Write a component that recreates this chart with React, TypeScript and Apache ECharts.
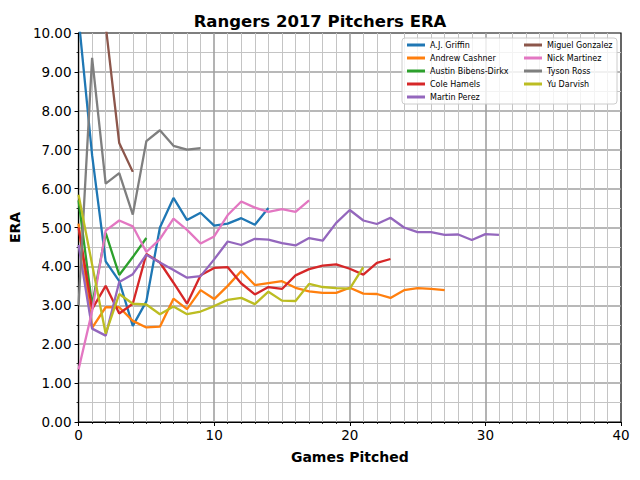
import React, { useEffect, useRef } from "react";
import * as echarts from "echarts";

const pitchers = [
  "A.J. Griffin",
  "Andrew Cashner",
  "Austin Bibens-Dirkx",
  "Cole Hamels",
  "Martin Perez",
  "Miguel Gonzalez",
  "Nick Martinez",
  "Tyson Ross",
  "Yu Darvish",
];

const colors = [
  "#1f77b4", "#ff7f0e", "#2ca02c", "#d62728", "#9467bd",
  "#8c564b", "#e377c2", "#7f7f7f", "#bcbd22",
];

const startGame = [0, 0, 0, 0, 0, 2, 0, 0, 0];

const griffin = [10.4, 6.86, 4.13, 3.62, 2.47, 3.1, 5.0, 5.76, 5.19, 5.38, 5.05, 5.1, 5.24, 5.07, 5.5];
const cashner = [5.1, 2.42, 2.95, 2.95, 2.6, 2.43, 2.45, 3.17, 2.9, 3.39, 3.16, 3.5, 3.88, 3.52, 3.57, 3.62, 3.45, 3.36, 3.32, 3.32, 3.45, 3.3, 3.29, 3.19, 3.39, 3.44, 3.42, 3.39];
const bibensDirkx = [5.7, 3.0, 4.86, 3.78, 4.24, 4.73];
const hamels = [5.0, 2.9, 3.5, 2.79, 3.04, 4.32, 4.1, 3.58, 3.04, 3.77, 3.96, 3.98, 3.56, 3.28, 3.47, 3.42, 3.77, 3.93, 4.02, 4.05, 3.94, 3.79, 4.09, 4.19];
const perez = [4.55, 2.4, 2.22, 3.6, 3.8, 4.3, 4.1, 3.91, 3.71, 3.75, 4.18, 4.64, 4.55, 4.71, 4.69, 4.6, 4.54, 4.73, 4.66, 5.12, 5.45, 5.18, 5.09, 5.25, 5.0, 4.88, 4.88, 4.81, 4.82, 4.68, 4.83, 4.81];
const gonzalez = [10.2, 7.17, 6.43];
const martinez = [1.35, 2.85, 4.92, 5.18, 5.03, 4.37, 4.7, 5.23, 4.94, 4.59, 4.77, 5.32, 5.67, 5.51, 5.4, 5.47, 5.4, 5.7];
const ross = [3.0, 9.36, 6.13, 6.4, 5.33, 7.22, 7.5, 7.1, 7.0, 7.04];
const darvish = [5.84, 4.05, 2.27, 3.29, 3.04, 3.02, 2.77, 2.97, 2.77, 2.84, 2.98, 3.14, 3.19, 3.03, 3.35, 3.12, 3.11, 3.55, 3.47, 3.44, 3.43, 3.98];

const eraSeries = [griffin, cashner, bibensDirkx, hamels, perez, gonzalez, martinez, ross, darvish];

const xTicks = [0, 10, 20, 30, 40];
const yMax = 10;

const FONT = "DejaVu Sans";

export default function App() {
  const ref = useRef<HTMLDivElement>(null);

  useEffect(() => {
    if (!ref.current) return;
    const chart = echarts.init(ref.current, null, { renderer: "svg" });

    const series = pitchers.map((name, i) => ({
      name,
      type: "line",
      data: eraSeries[i].map((v, k) => [startGame[i] + k, v]),
      showSymbol: false,
      symbol: "none",
      clip: true,
      lineStyle: { color: colors[i], width: 2.3 },
      itemStyle: { color: colors[i] },
      z: 2 + i * 0.01,
    }));

    const legendCommon = {
      orient: "vertical",
      selectedMode: false,
      icon: "rect",
      itemWidth: 18,
      itemHeight: 3,
      itemGap: 1,
      padding: 0,
      textStyle: { fontFamily: FONT, fontSize: 8, color: "#000", lineHeight: 12 },
      z: 5,
    };

    chart.setOption({
      animation: false,
      color: colors,
      title: {
        text: "Rangers 2017 Pitchers ERA",
        left: "center",
        top: 8,
        textStyle: { fontFamily: FONT, fontSize: 16.5, fontWeight: "bold", color: "#000" },
      },
      grid: {
        left: 77,
        right: 19,
        top: 33,
        bottom: 58,
        show: true,
        borderColor: "#000",
        borderWidth: 1.2,
        backgroundColor: "transparent",
      },
      legend: [
        { ...legendCommon, left: 407, top: 39, data: pitchers.slice(0, 5) },
        { ...legendCommon, left: 524, top: 39, data: pitchers.slice(5) },
      ],
      graphic: [
        {
          type: "rect",
          z: 4,
          shape: { x: 402, y: 38, width: 215, height: 66, r: 3 },
          style: { fill: "rgba(255,255,255,0.8)", stroke: "#cccccc", lineWidth: 1 },
        },
      ],
      xAxis: {
        type: "value",
        min: xTicks[0],
        max: xTicks[xTicks.length - 1],
        interval: 10,
        name: "Games Pitched",
        nameLocation: "middle",
        nameGap: 28,
        nameTextStyle: { fontFamily: FONT, fontSize: 14, fontWeight: "bold", color: "#000" },
        axisLine: { show: true, onZero: false, lineStyle: { color: "#000", width: 1.2 } },
        axisTick: { show: true, length: 4, lineStyle: { color: "#000", width: 1 } },
        minorTick: { show: true, splitNumber: 10, length: 2, lineStyle: { color: "#000", width: 0.8 } },
        axisLabel: { fontFamily: FONT, fontSize: 13.5, color: "#000", margin: 6 },
        splitLine: { show: true, showMinLine: false, showMaxLine: false, lineStyle: { color: "#a0a0a0", width: 1.6 } },
        minorSplitLine: { show: true, lineStyle: { color: "#c4c4c4", width: 1 } },
      },
      yAxis: {
        type: "value",
        min: 0,
        max: yMax,
        interval: 1,
        name: "ERA",
        nameLocation: "middle",
        nameGap: 56,
        nameTextStyle: { fontFamily: FONT, fontSize: 14, fontWeight: "bold", color: "#000" },
        axisLine: { show: true, onZero: false, lineStyle: { color: "#000", width: 1.2 } },
        axisTick: { show: true, length: 4, lineStyle: { color: "#000", width: 1 } },
        minorTick: { show: true, splitNumber: 2, length: 2, lineStyle: { color: "#000", width: 0.8 } },
        axisLabel: {
          fontFamily: FONT,
          fontSize: 13.5,
          color: "#000",
          margin: 7,
          formatter: (v: number) => v.toFixed(2),
        },
        splitLine: { show: true, showMinLine: false, showMaxLine: false, lineStyle: { color: "#a0a0a0", width: 1.6 } },
        minorSplitLine: { show: true, lineStyle: { color: "#c4c4c4", width: 1 } },
      },
      series,
    });

    return () => chart.dispose();
  }, []);

  return (
    <div
      ref={ref}
      style={{ position: "absolute", left: 0, top: 0, width: 640, height: 480, background: "#fff" }}
    />
  );
}
